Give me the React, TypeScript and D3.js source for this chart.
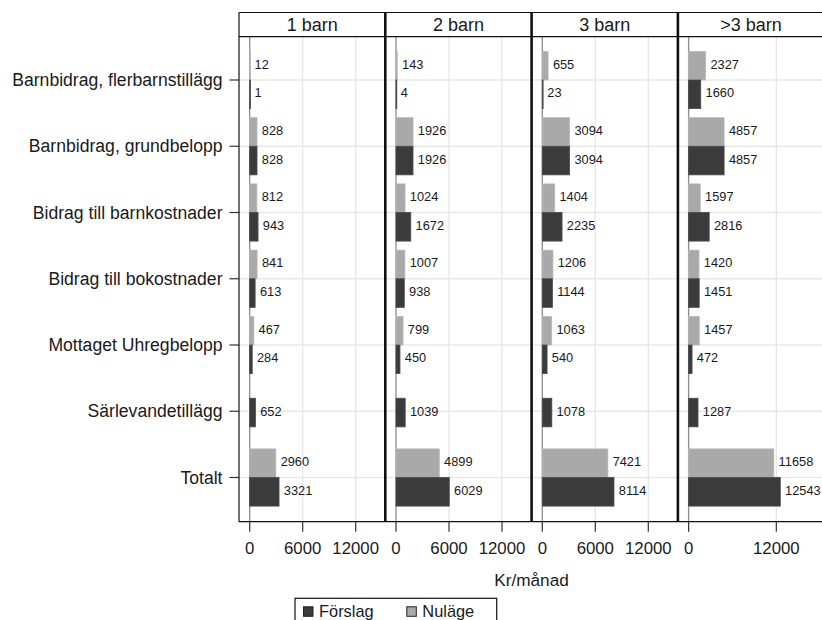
import React from "react";
import * as d3 from "d3";

const categories = [
  "Barnbidrag, flerbarnstillägg",
  "Barnbidrag, grundbelopp",
  "Bidrag till barnkostnader",
  "Bidrag till bokostnader",
  "Mottaget Uhregbelopp",
  "Särlevandetillägg",
  "Totalt",
];
const panels = ["1 barn", "2 barn", "3 barn", ">3 barn"];
const seriesNames = ["Förslag", "Nuläge"];

// values per panel, in category order (null = no bar)
const nulage: (number | null)[][] = [
  [12, 828, 812, 841, 467, null, 2960],
  [143, 1926, 1024, 1007, 799, null, 4899],
  [655, 3094, 1404, 1206, 1063, null, 7421],
  [2327, 4857, 1597, 1420, 1457, null, 11658],
];
const forslag: (number | null)[][] = [
  [1, 828, 943, 613, 284, 652, 3321],
  [4, 1926, 1672, 938, 450, 1039, 6029],
  [23, 3094, 2235, 1144, 540, 1078, 8114],
  [1660, 4857, 2816, 1451, 472, 1287, 12543],
];
const panelTicks = [
  [0, 6000, 12000],
  [0, 6000, 12000],
  [0, 6000, 12000],
  [0, 12000],
];
const panelDomains = [
  [-1211, 15350],
  [-1211, 15350],
  [-1211, 15350],
  [-1464, 18550],
];

const W = 822;
const H = 620;
const plotLeft = 239;
const panelW = 146.3;
const stripTop = 12.5;
const stripBottom = 36.7;
const plotBottom = 521.7;
const FONT = "'Liberation Sans', Arial, Helvetica, sans-serif";
const DARK = "#3b3b3b";
const LIGHT = "#a9a9a9";
const TXT = "#1a1a1a";

export default function App() {
  const y = d3.scalePoint<string>().domain(categories).range([80, 477.5]);
  const barH = 28.6;

  return (
    <div style={{ position: "absolute", left: 0, top: 0 }}>
      <svg width={W} height={H} style={{ display: "block", background: "#fff" }} fontFamily={FONT}>
        {/* y-axis labels and ticks */}
        {categories.map((c) => (
          <g key={c}>
            <line x1={plotLeft - 9.5} x2={plotLeft} y1={y(c)} y2={y(c)} stroke="#333" strokeWidth={1.2} />
            <text x={plotLeft - 16.5} y={y(c)} dy="0.35em" textAnchor="end" fontSize={17.6} fill={TXT}>
              {c}
            </text>
          </g>
        ))}

        {panels.map((p, i) => {
          const left = plotLeft + i * panelW;
          const right = left + panelW;
          const x = d3.scaleLinear().domain(panelDomains[i]).range([left, right]);
          const x0 = x(0);
          return (
            <g key={p}>
              <defs>
                <clipPath id={`clip${i}`}>
                  <rect x={left} y={stripBottom} width={panelW} height={plotBottom - stripBottom} />
                </clipPath>
              </defs>
              {/* gridlines */}
              {categories.map((c) => (
                <line key={c} x1={left} x2={right} y1={y(c)} y2={y(c)} stroke="#e8e8e8" strokeWidth={1.3} />
              ))}
              {panelTicks[i].filter((t) => t !== 0).map((t) => (
                <line key={t} x1={x(t)} x2={x(t)} y1={stripBottom} y2={plotBottom} stroke="#e6e6e6" strokeWidth={1.3} />
              ))}
              <line x1={x0} x2={x0} y1={stripBottom} y2={plotBottom} stroke="#8c8c8c" strokeWidth={1.3} />
              {/* bars */}
              <g clipPath={`url(#clip${i})`}>
                {categories.map((c, k) => {
                  const cy = y(c) as number;
                  const nv = nulage[i][k];
                  const fv = forslag[i][k];
                  const both = nv != null && fv != null;
                  const items: { v: number; top: number; fill: string }[] = [];
                  if (both) {
                    items.push({ v: nv as number, top: cy - barH, fill: LIGHT });
                    items.push({ v: fv as number, top: cy, fill: DARK });
                  } else if (fv != null) {
                    items.push({ v: fv, top: cy - barH / 2 + 1.3, fill: DARK });
                  } else if (nv != null) {
                    items.push({ v: nv, top: cy - barH / 2 + 1.3, fill: LIGHT });
                  }
                  return (
                    <g key={c}>
                      {items.map((it, j) => (
                        <g key={j}>
                          <rect
                            x={x0}
                            y={it.top}
                            width={Math.max(x(it.v) - x0, 0.8)}
                            height={barH}
                            fill={it.fill}
                            stroke={it.fill === DARK ? "#4a4a4a" : "#b8b8b8"}
                            strokeWidth={0.8}
                          />
                          <text
                            x={x(it.v) + 4.8}
                            y={it.top + barH / 2 - 1.5}
                            dy="0.35em"
                            fontSize={12.8}
                            fill={TXT}
                          >
                            {it.v}
                          </text>
                        </g>
                      ))}
                    </g>
                  );
                })}
              </g>
              {/* x ticks */}
              {panelTicks[i].map((t) => (
                <g key={t}>
                  <line x1={x(t)} x2={x(t)} y1={plotBottom} y2={plotBottom + 10} stroke="#333" strokeWidth={1.2} />
                  <text x={x(t)} y={548.5} dy="0.35em" textAnchor="middle" fontSize={16.8} fill={TXT}>
                    {t}
                  </text>
                </g>
              ))}
              {/* strip */}
              <text x={(left + right) / 2} y={(stripTop + stripBottom) / 2} dy="0.35em" textAnchor="middle" fontSize={18} fill={TXT}>
                {p}
              </text>
              {i > 0 && (
                <line x1={left} x2={left} y1={stripTop} y2={plotBottom} stroke="#111" strokeWidth={2.6} />
              )}
            </g>
          );
        })}

        {/* frame */}
        <line x1={plotLeft} x2={W} y1={stripTop} y2={stripTop} stroke="#111" strokeWidth={1.2} />
        <line x1={plotLeft} x2={W} y1={stripBottom} y2={stripBottom} stroke="#111" strokeWidth={1.2} />
        <line x1={plotLeft} x2={W} y1={plotBottom} y2={plotBottom} stroke="#111" strokeWidth={1.2} />
        <line x1={plotLeft} x2={plotLeft} y1={stripTop} y2={plotBottom} stroke="#111" strokeWidth={1.2} />

        {/* axis title */}
        <text x={531.5} y={580} dy="0.35em" textAnchor="middle" fontSize={17.2} fill={TXT}>
          Kr/månad
        </text>

        {/* legend */}
        <rect x={295} y={598.3} width={201.7} height={40} fill="#fff" stroke="#111" strokeWidth={1.2} />
        {seriesNames.map((s, j) => {
          const sx = j === 0 ? 303.5 : 406.8;
          return (
            <g key={s}>
              <rect x={sx} y={606.8} width={9.5} height={9.5} fill={j === 0 ? DARK : LIGHT} stroke="#222" strokeWidth={1} />
              <text x={sx + 15.5} y={611.3} dy="0.35em" fontSize={16.4} fill={TXT}>
                {s}
              </text>
            </g>
          );
        })}
      </svg>
    </div>
  );
}
